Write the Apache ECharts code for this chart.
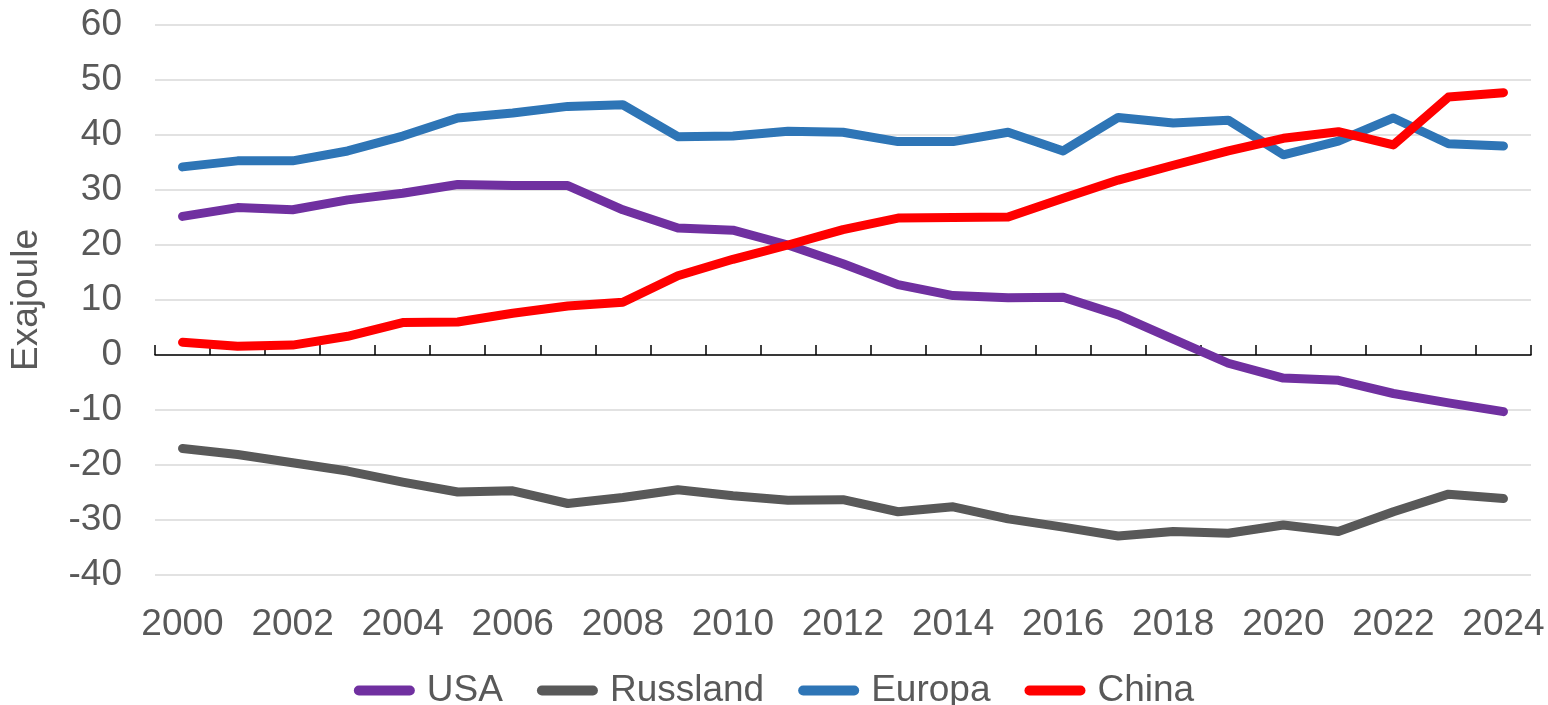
<!DOCTYPE html>
<html>
<head>
<meta charset="utf-8">
<script src="https://cdn.jsdelivr.net/npm/echarts@6/dist/echarts.min.js"></script>
<style>
html,body{margin:0;padding:0;background:#fff;}
#chart{width:1548px;height:705px;}
</style>
</head>
<body>
<div id="chart"></div>
<script>
const years = ['2000','2001','2002','2003','2004','2005','2006','2007','2008','2009','2010','2011','2012','2013','2014','2015','2016','2017','2018','2019','2020','2021','2022','2023','2024'];
const usa      = [25.2, 26.8, 26.4, 28.2, 29.4, 31.0, 30.8, 30.8, 26.4, 23.1, 22.7, 20.0, 16.6, 12.8, 10.8, 10.4, 10.5, 7.3, 2.9, -1.5, -4.2, -4.6, -7.0, -8.7, -10.3];
const russland = [-17.0, -18.1, -19.6, -21.1, -23.1, -24.9, -24.7, -27.0, -25.9, -24.5, -25.6, -26.4, -26.3, -28.5, -27.6, -29.8, -31.3, -32.9, -32.1, -32.4, -30.9, -32.1, -28.5, -25.3, -26.1];
const europa   = [34.2, 35.3, 35.3, 37.1, 39.8, 43.1, 44.0, 45.2, 45.5, 39.7, 39.8, 40.7, 40.5, 38.8, 38.8, 40.5, 37.1, 43.2, 42.2, 42.7, 36.4, 38.9, 43.1, 38.4, 38.0];
const china    = [2.3, 1.6, 1.8, 3.4, 5.9, 6.0, 7.6, 8.9, 9.6, 14.4, 17.4, 20.0, 22.8, 24.9, 25.0, 25.1, 28.5, 31.8, 34.5, 37.1, 39.4, 40.6, 38.2, 46.9, 47.7];
const yTicks = {min: -40, max: 60, interval: 10};
const names = ['USA', 'Russland', 'Europa', 'China'];
const colors = ['#7030A0', '#595959', '#2E75B6', '#FF0000'];

const font = 'Liberation Sans, Arial, sans-serif';
const chart = echarts.init(document.getElementById('chart'), null, {renderer: 'canvas'});
const pill = 'path://M5,0 L56,0 A5,5 0 0 1 56,10 L5,10 A5,5 0 0 1 5,0 Z';

function mk(name, data, color) {
  return {
    name: name, type: 'line', data: data, xAxisIndex: 0,
    symbol: 'none', smooth: false,
    lineStyle: {color: color, width: 9, cap: 'round', join: 'round'},
    itemStyle: {color: color},
    emphasis: {disabled: true}
  };
}

chart.setOption({
  animation: false,
  backgroundColor: '#fff',
  textStyle: {fontFamily: font},
  grid: {left: 152, right: 17, top: 25, bottom: 130, containLabel: false},
  legend: {
    data: names.map(n => ({name: n, icon: pill})),
    top: 667,
    left: 'center',
    itemWidth: 61, itemHeight: 10, itemGap: 34,
    textStyle: {fontSize: 37, color: '#595959', fontFamily: font, padding: [0, 0, 0, 7]},
    selectedMode: false
  },
  xAxis: [{
    type: 'category', data: years, boundaryGap: true,
    axisLine: {onZero: true, lineStyle: {color: '#000', width: 1.5}},
    axisTick: {show: true, inside: true, length: 10, interval: 0, lineStyle: {color: '#000', width: 1.5}},
    axisLabel: {show: false},
    splitLine: {show: false}
  }, {
    type: 'category', data: years, boundaryGap: true, position: 'bottom',
    axisLine: {show: false, onZero: false},
    axisTick: {show: false},
    axisLabel: {show: true, interval: 1, margin: 31, fontSize: 37, color: '#595959', fontFamily: font},
    splitLine: {show: false}
  }],
  yAxis: {
    type: 'value', min: yTicks.min, max: yTicks.max, interval: yTicks.interval,
    name: 'Exajoule', nameLocation: 'middle', nameGap: 110, nameRotate: 90,
    nameTextStyle: {fontSize: 37, color: '#595959', fontFamily: font},
    axisLine: {show: false}, axisTick: {show: false},
    axisLabel: {fontSize: 37, color: '#595959', margin: 33, fontFamily: font},
    splitLine: {show: true, lineStyle: {color: '#D9D9D9', width: 1.5}}
  },
  series: [
    mk(names[0], usa, colors[0]),
    mk(names[1], russland, colors[1]),
    mk(names[2], europa, colors[2]),
    mk(names[3], china, colors[3])
  ]
});
</script>
</body>
</html>
